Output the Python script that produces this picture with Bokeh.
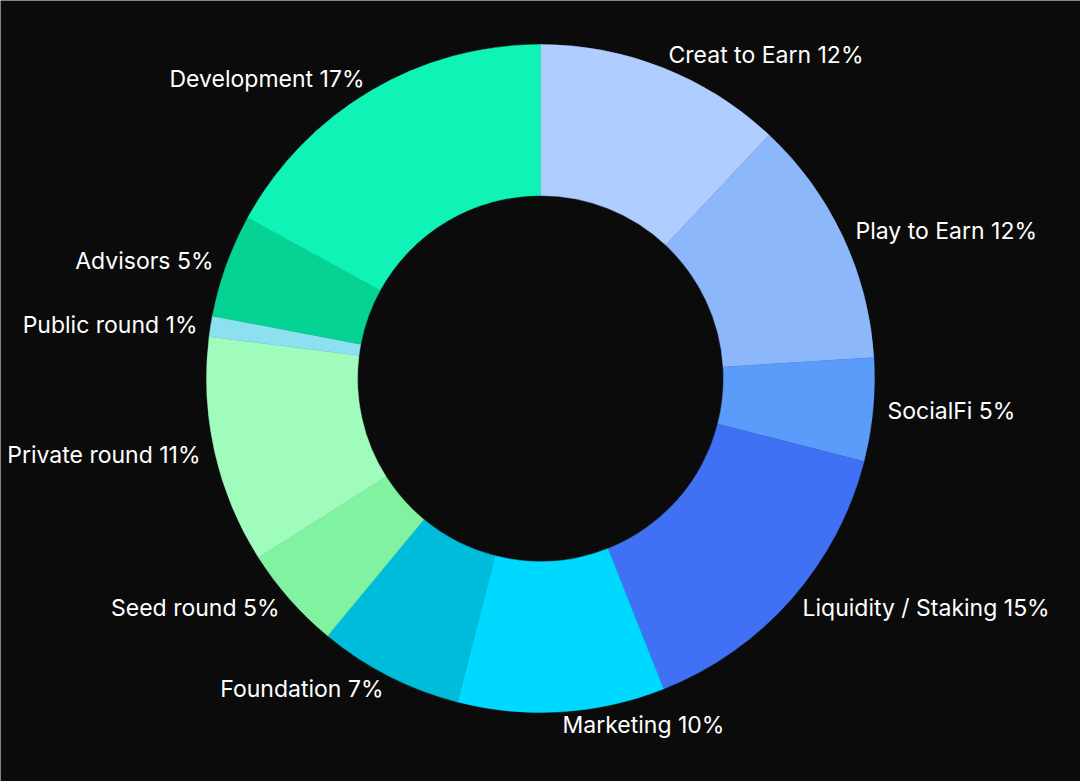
import math
from bokeh.plotting import figure
from bokeh.models import ColumnDataSource, Range1d
from bokeh.core.properties import value
from bokeh.embed import file_html
from bokeh.resources import INLINE

categories = ["Creat to Earn", "Play to Earn", "SocialFi", "Liquidity / Staking", "Marketing",
              "Foundation", "Seed round", "Private round", "Public round", "Advisors", "Development"]
shares = [12, 12, 5, 15, 10, 7, 5, 11, 1, 5, 17]
colors = ["#b0cdff", "#8cb8fb", "#5b9bfa", "#4071f5", "#00d9ff",
          "#00bcdb", "#80f2a0", "#a0fcbc", "#8ce0ef", "#04d393", "#0ff4b6"]

# label layout (pixel positions from top-left) and alignment
label_x = [668, 855, 887, 802, 562, 383, 279, 200, 197, 213, 364]
label_y = [54, 230, 410, 607, 724, 688, 607, 454, 324, 260, 78]
label_align = ["left", "left", "left", "left", "left", "right", "right", "right", "right", "right", "right"]

W, H = 1080, 781
CX, CY = 540, 378
R_IN, R_OUT = 183, 334

total = sum(shares)
starts, ends = [], []
acc = 0.0
for s in shares:
    a0 = math.pi / 2 - 2 * math.pi * acc / total
    acc += s
    a1 = math.pi / 2 - 2 * math.pi * acc / total
    starts.append(a0)
    ends.append(a1)

src = ColumnDataSource(dict(cat=categories, share=shares, color=colors,
                            start=starts, end=ends))

p = figure(width=W, height=H, output_backend="svg", toolbar_location=None,
           x_range=Range1d(0, W), y_range=Range1d(0, H), min_border=0,
           background_fill_color="#0b0b0b", border_fill_color="#0b0b0b")
p.axis.visible = False
p.grid.visible = False
p.outline_line_color = None

p.annular_wedge(x=CX, y=H - CY, inner_radius=R_IN, outer_radius=R_OUT,
                start_angle="start", end_angle="end", direction="clock",
                color="color", line_color="color", line_width=0.5, source=src)

texts = [f"{c} {s}%" for c, s in zip(categories, shares)]
lsrc = ColumnDataSource(dict(x=label_x, y=[H - y for y in label_y], text=texts, align=label_align))
p.text(x="x", y="y", text="text", text_align="align", text_baseline="middle",
       text_color="#ffffff", text_font=value("Inter"), text_font_size="23px",
       text_font_style="normal", source=lsrc)

open("out.html", "w").write(file_html(p, INLINE))
